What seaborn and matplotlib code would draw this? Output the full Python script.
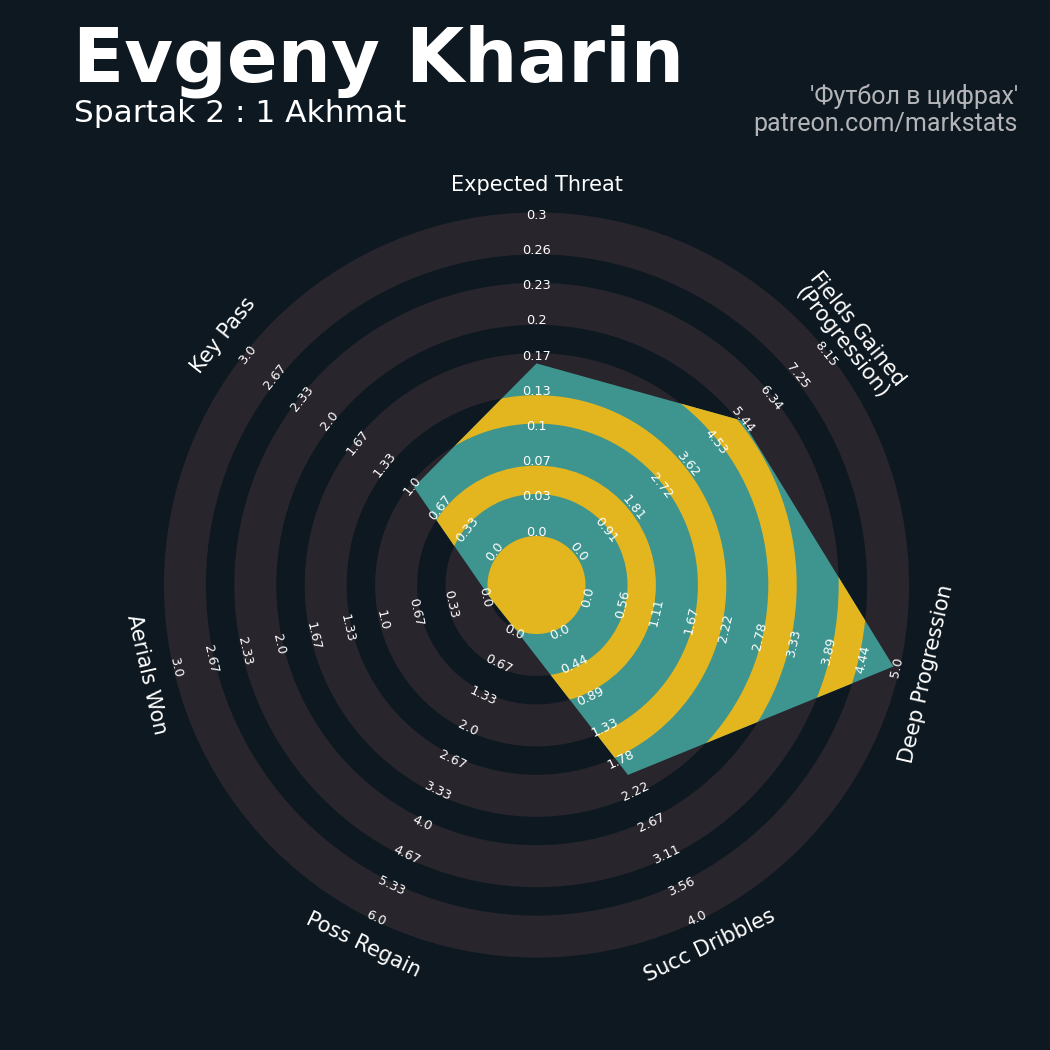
import numpy as np
import matplotlib
matplotlib.use("Agg")
import matplotlib.pyplot as plt
from matplotlib.patches import Wedge, Polygon
import seaborn as sns

# =========================
# DATA
# =========================
params = ["Expected Threat", "Fields Gained\n(Progression)", "Deep Progression",
          "Succ Dribbles", "Poss Regain", "Aerials Won", "Key Pass"]
values = [0.16, 5.4, 4.9, 2.0, 0.0, 0.0, 1.0]
low = [0.0, 0.0, 0.0, 0.0, 0.0, 0.0, 0.0]
high = [0.3, 8.15, 5.0, 4.0, 6.0, 3.0, 3.0]

range_labels = [
    ["0.0", "0.03", "0.07", "0.1", "0.13", "0.17", "0.2", "0.23", "0.26", "0.3"],
    ["0.0", "0.91", "1.81", "2.72", "3.62", "4.53", "5.44", "6.34", "7.25", "8.15"],
    ["0.0", "0.56", "1.11", "1.67", "2.22", "2.78", "3.33", "3.89", "4.44", "5.0"],
    ["0.0", "0.44", "0.89", "1.33", "1.78", "2.22", "2.67", "3.11", "3.56", "4.0"],
    ["0.0", "0.67", "1.33", "2.0", "2.67", "3.33", "4.0", "4.67", "5.33", "6.0"],
    ["0.0", "0.33", "0.67", "1.0", "1.33", "1.67", "2.0", "2.33", "2.67", "3.0"],
    ["0.0", "0.33", "0.67", "1.0", "1.33", "1.67", "2.0", "2.33", "2.67", "3.0"],
]

title = "Evgeny Kharin"
subtitle = "Spartak 2 : 1 Akhmat"
credits = ["'Футбол в цифрах'", "patreon.com/markstats"]

# =========================
# STYLE
# =========================
BG = "#0e1820"
RING = "#28252c"
TEAL = "#3e958f"
GOLD = "#e3b51e"

sns.set_style("dark", {"axes.facecolor": BG, "figure.facecolor": BG})
plt.rcParams["font.family"] = ["DejaVu Sans"]

# radar geometry (axes units == pixels)
CX, CY = 536.5, 585
R0 = 49          # centre circle
R_MAX = 372.6    # outer edge
PERIOD = 70.4    # one grey + one dark ring
GREY_W = 42
N_RINGS = 5

fig = plt.figure(figsize=(10.5, 10.5), dpi=100)
ax = fig.add_axes([0, 0, 1, 1])
ax.set_xlim(0, 1050)
ax.set_ylim(1050, 0)
ax.set_aspect("equal")
ax.axis("off")

n = len(params)
theta = np.deg2rad(90 - np.arange(n) * 360 / n)


def to_xy(r, t):
    return CX + r * np.cos(t), CY - r * np.sin(t)


# grey background rings
for k in range(N_RINGS):
    r_in = R0 + PERIOD * k
    ax.add_patch(Wedge((CX, CY), r_in + GREY_W, 0, 360, width=GREY_W,
                       facecolor=RING, edgecolor="none", zorder=1))

# radar polygon
frac = (np.array(values) - np.array(low)) / (np.array(high) - np.array(low))
radii = R0 + frac * (R_MAX - R0)
px, py = to_xy(radii, theta)
poly = Polygon(np.column_stack([px, py]), closed=True, facecolor=TEAL,
               edgecolor="none", zorder=2)
ax.add_patch(poly)

# gold rings clipped to the polygon
gold = [Wedge((CX, CY), R0, 0, 360, facecolor=GOLD, edgecolor="none", zorder=3)]
for k in range(N_RINGS - 1):
    r_in = R0 + GREY_W + PERIOD * k
    r_out = R0 + PERIOD * (k + 1)
    gold.append(Wedge((CX, CY), r_out, 0, 360, width=r_out - r_in,
                      facecolor=GOLD, edgecolor="none", zorder=3))
for g in gold:
    ax.add_patch(g)
    g.set_clip_path(poly)

# range labels + parameter names
for i in range(n):
    rot = (np.rad2deg(theta[i]) % 180) - 90
    labs = range_labels[i]
    for k, lab in enumerate(labs):
        lx, ly = to_xy(53 + 35.2 * k, theta[i])
        ax.text(lx, ly, lab, color="white", fontsize=9.3, rotation=rot,
                rotation_mode="anchor", ha="center", va="center", zorder=5)
    tx, ty = to_xy(400, theta[i])
    ax.text(tx, ty, params[i], color="white", fontsize=15, rotation=rot,
            rotation_mode="anchor", ha="center", va="center",
            linespacing=1.0, zorder=5)

# =========================
# TITLES
# =========================
ax.text(73, 82, title, color="white", fontsize=54, fontweight="bold",
        ha="left", va="baseline")
ax.text(74, 122, subtitle, color="white", fontsize=22.5, ha="left", va="baseline")
ax.text(1018, 104, credits[0], color="#b3b5b8", fontsize=18, ha="right",
        va="baseline", family=["Roboto", "DejaVu Sans"])
ax.text(1018, 131, credits[1], color="#b3b5b8", fontsize=18, ha="right",
        va="baseline", family=["Roboto", "DejaVu Sans"])

fig.savefig("out.png", dpi=100, facecolor=BG)
plt.close()
